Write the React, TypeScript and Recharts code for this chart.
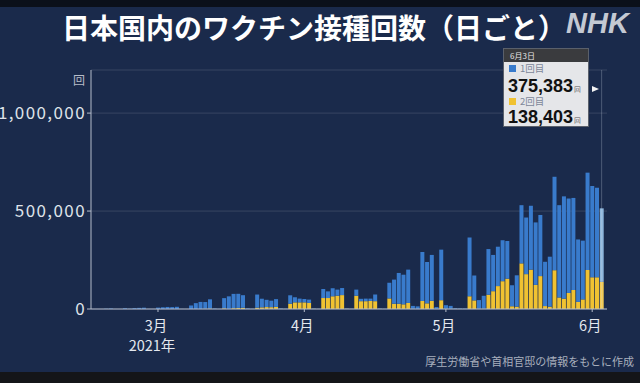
import React from 'react';
import {
  BarChart,
  Bar,
  XAxis,
  YAxis,
  CartesianGrid,
  Tooltip,
  ReferenceLine,
  Cell,
} from 'recharts';

const FONT = '"Noto Sans CJK JP", "Noto Sans", sans-serif';
const NUM_FONT = '"Liberation Sans", Arial, sans-serif';

// days from the first dose (Feb 17) to Jun 3, 2021
const dates = [
  '2/17', '2/18', '2/19', '2/20', '2/21', '2/22', '2/23', '2/24', '2/25', '2/26', '2/27', '2/28',
  '3/1', '3/2', '3/3', '3/4', '3/5', '3/6', '3/7', '3/8', '3/9', '3/10', '3/11', '3/12', '3/13', '3/14',
  '3/15', '3/16', '3/17', '3/18', '3/19', '3/20', '3/21', '3/22', '3/23', '3/24', '3/25', '3/26', '3/27',
  '3/28', '3/29', '3/30', '3/31',
  '4/1', '4/2', '4/3', '4/4', '4/5', '4/6', '4/7', '4/8', '4/9', '4/10', '4/11', '4/12', '4/13', '4/14',
  '4/15', '4/16', '4/17', '4/18', '4/19', '4/20', '4/21', '4/22', '4/23', '4/24', '4/25', '4/26', '4/27',
  '4/28', '4/29', '4/30',
  '5/1', '5/2', '5/3', '5/4', '5/5', '5/6', '5/7', '5/8', '5/9', '5/10', '5/11', '5/12', '5/13', '5/14',
  '5/15', '5/16', '5/17', '5/18', '5/19', '5/20', '5/21', '5/22', '5/23', '5/24', '5/25', '5/26', '5/27',
  '5/28', '5/29', '5/30', '5/31',
  '6/1', '6/2', '6/3',
];

// 1回目
const firstDose = [
  125, 1600, 2600, 200, 0, 3900, 700, 4500, 5800, 6800, 300, 100,
  7200, 8900, 10500, 9800, 11200, 600, 200,
  18000, 30000, 36000, 34000, 47000, 2500, 800,
  52000, 64000, 73000, 72000, 64000, 3000, 1200,
  67000, 44000, 37000, 33000, 40000, 2500, 1000,
  43000, 26000, 19000,
  17000, 17000, 1500, 600,
  46000, 34000, 41000, 31000, 36000, 1500, 800,
  31000, 12000, 13000, 12000, 34000, 2000, 800,
  80000, 123000, 157000, 151000, 170000, 15000, 13000,
  250000, 211000, 234000, 9000, 258000,
  18000, 15000, 3500, 2500, 2000, 300000, 127000, 44000, 66000,
  233000, 185000, 201000, 209000, 192000, 107000, 160000,
  297000, 289000, 326000, 319000, 312000, 226000, 255000,
  477000, 471000, 522000, 482000, 470000, 319000, 300000,
  497000,
  466000, 457000, 375383,
];

// 2回目
const secondDose = [
  0, 0, 0, 0, 0, 0, 0, 0, 0, 0, 0, 0,
  0, 0, 0, 0, 0, 0, 0,
  0, 0, 100, 1500, 2500, 100, 0,
  3500, 600, 4200, 5600, 6500, 300, 100,
  6800, 8500, 9900, 9400, 10500, 600, 200,
  27000, 34000, 34000,
  34000, 31000, 800, 300,
  56000, 56000, 65000, 68000, 71000, 1200, 500,
  68000, 40000, 40000, 41000, 40000, 600, 300,
  54000, 27000, 27000, 24000, 31000, 800, 500,
  41000, 29000, 42000, 1000, 45000,
  1500, 800, 300, 200, 200, 65000, 44000, 1500, 1500,
  73000, 91000, 117000, 142000, 155000, 14000, 12000,
  233000, 178000, 201000, 123000, 168000, 15000, 12000,
  198000, 59000, 53000, 82000, 97000, 36000, 49000,
  199000,
  162000, 162000, 138403,
];

const yTicks = [0, 500000, 1000000];
const lastDate = '6/3';

const data = dates.map((d, i) => ({ date: d, first: firstDose[i], second: secondDose[i] }));

const BLUE = '#397bcc';
const BLUE_HI = '#8cb6dc';
const YELLOW = '#f0c232';
const AXIS = '#b4bccb';

function MonthTick(props: any) {
  const { x, y, payload } = props;
  const [m, d] = String(payload.value).split('/');
  if (d !== '1') return <g />;
  return (
    <g>
      <line x1={x} x2={x} y1={y - 3} y2={y} stroke={AXIS} />
      <text x={x - 2} y={y + 19} textAnchor="middle" fill="#e4e8ef" fontSize={14.5} fontFamily={FONT}>
        {m}月
      </text>
      {m === '3' && (
        <text x={x - 6} y={y + 39} textAnchor="middle" fill="#e4e8ef" fontSize={14.5} fontFamily={FONT}>
          2021年
        </text>
      )}
    </g>
  );
}

function DoseTip({ payload, label }: any) {
  if (!payload || !payload.length) return null;
  const f = payload.find((p: any) => p.dataKey === 'first')?.value ?? 0;
  const s = payload.find((p: any) => p.dataKey === 'second')?.value ?? 0;
  const [m, d] = String(label).split('/');
  const row = (color: string, name: string, value: number, labelTop: number, numTop: number) => (
    <>
      <div style={{ position: 'absolute', left: 5, top: labelTop + 2.5, width: 7, height: 7, background: color }} />
      <div style={{ position: 'absolute', left: 16, top: labelTop, fontSize: 9.5, lineHeight: '12px', color: '#7c8799' }}>
        {name}
      </div>
      <div
        style={{
          position: 'absolute',
          left: 4,
          top: numTop,
          fontSize: 18,
          lineHeight: '20px',
          fontWeight: 700,
          fontFamily: NUM_FONT,
          color: '#111',
          whiteSpace: 'nowrap',
        }}
      >
        {value.toLocaleString('en-US')}
        <span style={{ fontSize: 7, fontWeight: 400, color: '#555', marginLeft: 1 }}>回</span>
      </div>
    </>
  );
  return (
    <div style={{ position: 'relative', width: 86, height: 79, fontFamily: FONT, border: '1px solid #5a606b', boxSizing: 'border-box' }}>
      <div style={{ height: 13, background: '#3a3b3e', color: '#e6e6e6', fontSize: 8, lineHeight: '13px', paddingLeft: 6 }}>
        {m}月{d}日
      </div>
      <div style={{ position: 'relative', height: 64, background: '#e5e6e9' }}>
        {row(BLUE, '1回目', f, 0, 13.5)}
        {row(YELLOW, '2回目', s, 33, 45)}
      </div>
      <div
        style={{
          position: 'absolute',
          left: 88,
          top: 37,
          width: 0,
          height: 0,
          borderLeft: '7px solid #f2f2f2',
          borderTop: '3.5px solid transparent',
          borderBottom: '3.5px solid transparent',
        }}
      />
    </div>
  );
}

export default function App() {
  const lastIndex = dates.indexOf(lastDate);
  return (
    <div style={{ position: 'absolute', left: 0, top: 0, width: 640, height: 383, background: '#1a2a4b', overflow: 'hidden', fontFamily: FONT }}>
      <div style={{ position: 'absolute', left: 0, top: 0, width: 640, height: 7, background: '#0b101a' }} />
      <div style={{ position: 'absolute', left: 62, top: 8, fontSize: 28, lineHeight: '38px', fontWeight: 700, color: '#ffffff', whiteSpace: 'nowrap' }}>
        日本国内のワクチン接種回数（日ごと）
      </div>
      <div
        style={{
          position: 'absolute',
          left: 566,
          top: 6,
          fontSize: 29,
          lineHeight: '34px',
          fontWeight: 900,
          fontStyle: 'italic',
          fontFamily: '"Liberation Sans", sans-serif',
          color: '#c4c9d3',
        }}
      >
        NHK
      </div>
      <div style={{ position: 'absolute', left: 73, top: 72, fontSize: 12, lineHeight: '16px', color: '#b6bcc8' }}>回</div>

      <div style={{ position: 'absolute', left: 0, top: 0 }}>
        <BarChart
          width={640}
          height={383}
          data={data}
          margin={{ top: 70, right: 33, bottom: 34, left: 0 }}
          barCategoryGap="9%"
        >
          <CartesianGrid vertical={false} stroke="rgba(255,255,255,0.13)" />
          <XAxis
            dataKey="date"
            interval={0}
            height={40}
            padding={{ left: 8, right: 3 }}
            axisLine={{ stroke: AXIS }}
            tickLine={false}
            tickSize={3}
            tickMargin={0}
            tick={(p: any) => <MonthTick {...p} />}
          />
          <YAxis
            width={91}
            domain={[0, 1220000]}
            ticks={yTicks}
            allowDataOverflow
            axisLine={{ stroke: AXIS }}
            tickLine={{ stroke: AXIS }}
            tickSize={4}
            tickMargin={1}
            tickFormatter={(v: number) => v.toLocaleString('en-US')}
            tick={{ fill: '#dfe3ea', fontSize: 17, fontFamily: FONT, letterSpacing: 1.4 }}
          />
          <ReferenceLine x={lastDate} stroke="rgba(210,220,235,0.28)" />
          <Tooltip
            active
            defaultIndex={lastIndex}
            position={{ x: 503, y: 48 }}
            cursor={false}
            isAnimationActive={false}
            content={<DoseTip />}
          />
          <Bar dataKey="second" stackId="a" fill={YELLOW} isAnimationActive={false}>
            {data.map((e) => (
              <Cell key={e.date} fill={e.date === lastDate ? '#f3cb52' : YELLOW} />
            ))}
          </Bar>
          <Bar dataKey="first" stackId="a" fill={BLUE} isAnimationActive={false}>
            {data.map((e) => (
              <Cell key={e.date} fill={e.date === lastDate ? BLUE_HI : BLUE} />
            ))}
          </Bar>
        </BarChart>
      </div>

      <div style={{ position: 'absolute', right: 6, top: 353, fontSize: 11, lineHeight: '16px', color: '#a8afbd', whiteSpace: 'nowrap' }}>
        厚生労働省や首相官邸の情報をもとに作成
      </div>
      <div style={{ position: 'absolute', left: 0, top: 372, width: 640, height: 11, background: '#141518' }} />
    </div>
  );
}
